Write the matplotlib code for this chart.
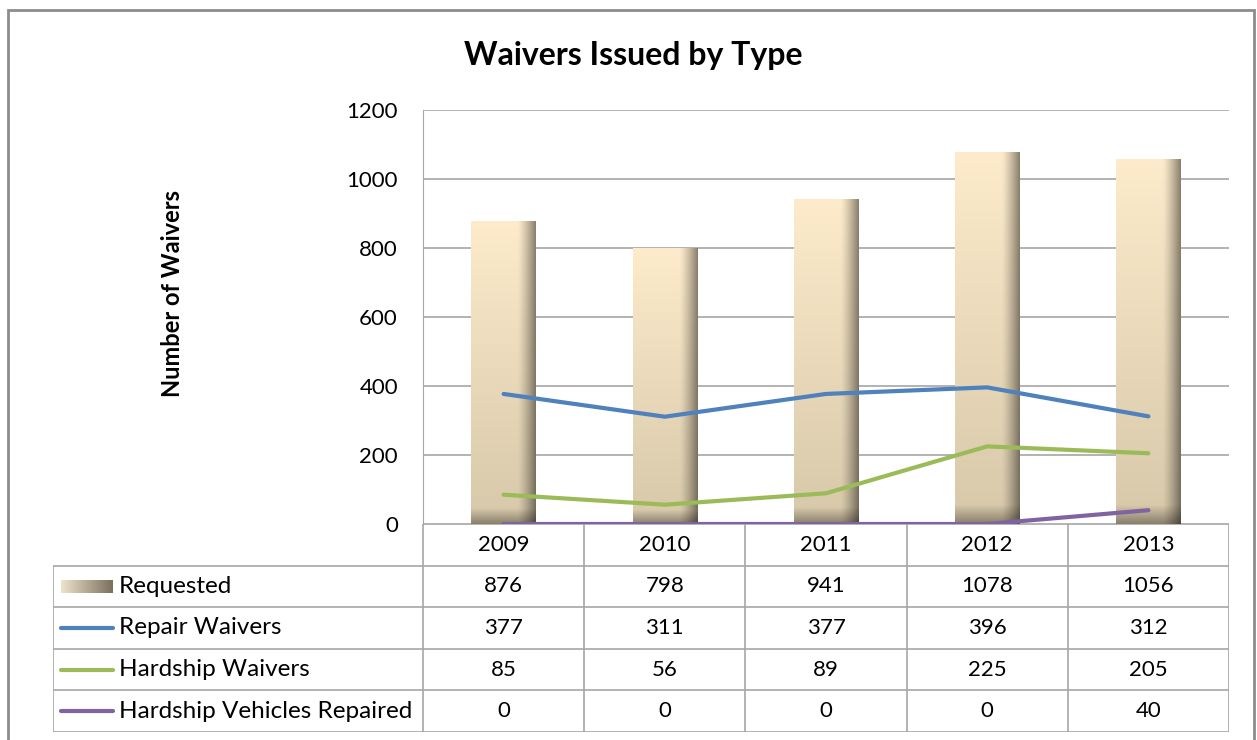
import numpy as np
import matplotlib
matplotlib.use("Agg")
from matplotlib import pyplot as plt
from matplotlib.patches import Rectangle
from matplotlib.colors import to_rgb

plt.rcParams['font.family'] = ['Lato', 'DejaVu Sans']

years = ['2009', '2010', '2011', '2012', '2013']
requested = [876, 798, 941, 1078, 1056]
repair_waivers = [377, 311, 377, 396, 312]
hardship_waivers = [85, 56, 89, 225, 205]
hardship_repaired = [0, 0, 0, 0, 40]

series_names = ['Requested', 'Repair Waivers', 'Hardship Waivers', 'Hardship Vehicles Repaired']
line_colors = ['#4F81BD', '#9BBB59', '#8064A2']
grid_color = '#A6A6A6'

W, H = 1257, 740
fig = plt.figure(figsize=(W / 100, H / 100), dpi=100)


def fx(px):
    return px / W


def fy(py):
    return 1 - py / H


# outer chart frame
fig.patches.append(Rectangle((fx(8), fy(760)), fx(1254) - fx(8), fy(10) - fy(760),
                             transform=fig.transFigure, fill=False,
                             edgecolor='#8C8C8C', linewidth=2))

ax = fig.add_axes([fx(423), fy(524), fx(1229) - fx(423), fy(110) - fy(524)])


def bar_image(nx=60, ny=200):
    top = np.array(to_rgb('#FDEBCB'))
    bottom = np.array(to_rgb('#D6C8A9'))
    t = np.linspace(1, 0, ny)[:, None, None]
    img = bottom + (top - bottom) * t
    img = np.repeat(img, nx, axis=1)
    u = np.linspace(0, 1, nx)
    shade = np.ones(nx)
    edge = u > 0.72
    shade[edge] = 1 - 0.45 * ((u[edge] - 0.72) / 0.28) ** 1.3
    img = img * shade[None, :, None]
    v = np.linspace(1, 0, ny)
    dark = np.ones(ny)
    low = v < 0.05
    dark[low] = 1 - 0.35 * (1 - v[low] / 0.05)
    img = img * dark[:, None, None]
    return np.clip(img, 0, 1)


x = np.arange(len(years))
bw = 0.4
for xi, val in zip(x, requested):
    ax.imshow(bar_image(), extent=(xi - bw / 2, xi + bw / 2, 0, val),
              aspect='auto', zorder=2, interpolation='bilinear')

for vals, c in zip([repair_waivers, hardship_waivers, hardship_repaired], line_colors):
    ax.plot(x, vals, color=c, linewidth=3, zorder=3, solid_capstyle='round')

ax.set_xlim(-0.5, len(years) - 0.5)
ax.set_ylim(0, 1200)
ax.set_yticks(range(0, 1201, 200))
ax.yaxis.grid(True, color=grid_color, linewidth=1.2)
ax.set_axisbelow(True)
ax.set_xticks([])
ax.tick_params(axis='y', length=0, pad=18, labelsize=16)
for s in ['top', 'right', 'bottom']:
    ax.spines[s].set_visible(False)
ax.spines['left'].set_color(grid_color)

fig.text(fx(633), fy(55), 'Waivers Issued by Type', ha='center', va='center',
         fontsize=23, fontweight='bold')
fig.text(fx(172), fy(294), 'Number of Waivers', ha='center', va='center',
         rotation=90, fontsize=17, fontweight='bold')

# data table below the plot
tab = fig.add_axes([fx(53), fy(732), fx(1229) - fx(53), fy(524) - fy(732)])
col_w = (1229 - 423) / len(years)
head_w = (423 - 53) / col_w
left = -0.5 - head_w
tab.set_xlim(left, len(years) - 0.5)
tab.set_ylim(5, 0)
tab.axis('off')

lw = 1.2
# header row verticals
for b in np.arange(len(years) + 1) - 0.5:
    tab.plot([b, b], [0, 5], color=grid_color, linewidth=lw)
tab.plot([-0.5, len(years) - 0.5], [0, 0], color=grid_color, linewidth=lw)
for r in range(1, 6):
    tab.plot([left, len(years) - 0.5], [r, r], color=grid_color, linewidth=lw)
tab.plot([left, left], [1, 5], color=grid_color, linewidth=lw)

for xi, yr in zip(x, years):
    tab.text(xi, 0.5, yr, ha='center', va='center', fontsize=16)

rows = [requested, repair_waivers, hardship_waivers, hardship_repaired]
for r, (name, vals) in enumerate(zip(series_names, rows), start=1):
    yc = r + 0.5
    for xi, v in zip(x, vals):
        tab.text(xi, yc, str(v), ha='center', va='center', fontsize=16)
    tab.text(left + (119 - 53) / col_w, yc, name, ha='left', va='center', fontsize=17.5)

# legend keys
kx0 = left + (61 - 53) / col_w
kx1 = left + (113 - 53) / col_w
key = np.linspace(0, 1, 60)
c0 = np.array(to_rgb('#EDE3CC'))
c1 = np.array(to_rgb('#7A705C'))
key_img = (c0 + (c1 - c0) * key[:, None])[None, :, :]
tab.imshow(key_img, extent=(kx0, kx1, 1.66, 1.36), aspect='auto', zorder=2)
for r, c in enumerate(line_colors, start=2):
    tab.plot([kx0, kx1], [r + 0.5, r + 0.5], color=c, linewidth=3,
             solid_capstyle='round')
tab.set_xlim(left, len(years) - 0.5)
tab.set_ylim(5, 0)

fig.savefig('out.png', dpi=100)
